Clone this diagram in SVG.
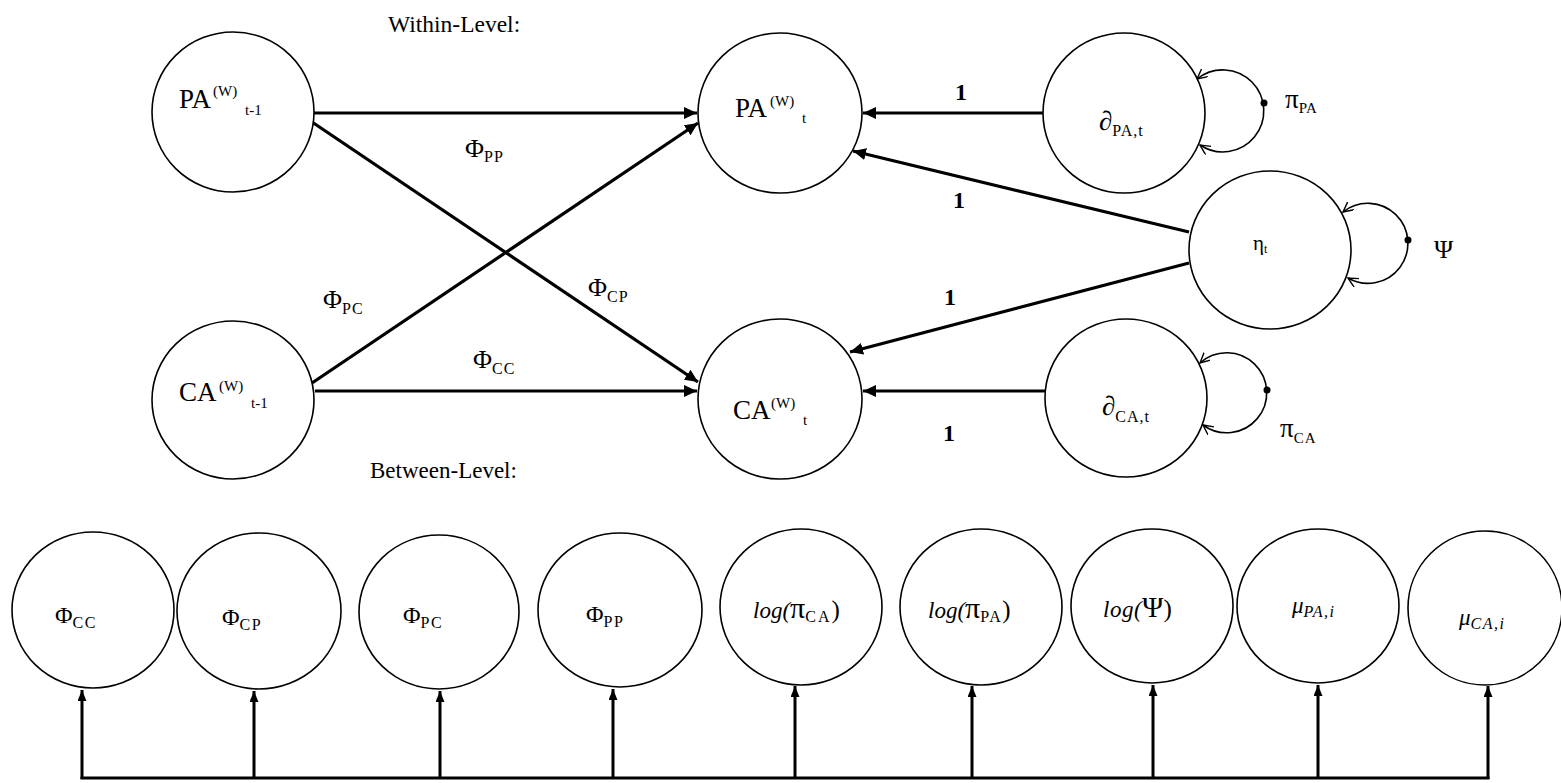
<svg xmlns="http://www.w3.org/2000/svg" width="1561" height="783" viewBox="0 0 1561 783">
<style>
.n{fill:#fff;stroke:#000;stroke-width:1.6}
.t{font-family:"Liberation Serif","Times New Roman",serif;fill:#000}
.c{stroke:#000;stroke-width:3.2;fill:none}
.b{stroke:#000;stroke-width:3;fill:none}
.l{stroke:#000;stroke-width:1.6;fill:none}
.one{font-family:"Liberation Serif","Times New Roman",serif;font-weight:bold;font-size:24px;text-anchor:middle}
.i{font-style:italic}
</style>
<defs>
<marker id="ah" markerUnits="userSpaceOnUse" markerWidth="14" markerHeight="12" refX="13" refY="6" orient="auto"><path d="M0,0 L13,6 L0,12 z" fill="#000"/></marker>
<marker id="ab" markerUnits="userSpaceOnUse" markerWidth="12" markerHeight="10" refX="11" refY="4.5" orient="auto"><path d="M0,0 L11,4.5 L0,9 z" fill="#000"/></marker>
<marker id="ao" markerUnits="userSpaceOnUse" markerWidth="12" markerHeight="12" refX="10" refY="5" orient="auto-start-reverse"><path d="M0,0 L10,5 L0,10" fill="none" stroke="#000" stroke-width="1.4"/></marker>
</defs>
<rect width="1561" height="783" fill="#fff"/>

<text class="t" x="388" y="32" font-size="23.5">Within-Level:</text>
<text class="t" x="370" y="478" font-size="23">Between-Level:</text>

<g id="connectors">
<line class="c" x1="314" y1="113" x2="697" y2="113" marker-end="url(#ah)"/>
<line class="c" x1="312" y1="122" x2="698" y2="382" marker-end="url(#ah)"/>
<line class="c" x1="312" y1="383" x2="698" y2="123" marker-end="url(#ah)"/>
<line class="c" x1="315" y1="391" x2="697" y2="391" marker-end="url(#ah)"/>
<line class="c" x1="1043" y1="113" x2="863" y2="113" marker-end="url(#ah)"/>
<line class="c" x1="1189" y1="232" x2="853" y2="151" marker-end="url(#ah)"/>
<line class="c" x1="1189" y1="263" x2="850" y2="352" marker-end="url(#ah)"/>
<line class="c" x1="1045" y1="391" x2="863" y2="391" marker-end="url(#ah)"/>
<path class="l" d="M1197,79 A41,41 0 1,1 1200,145" marker-start="url(#ao)" marker-end="url(#ao)"/>
<path class="l" d="M1343,212 A40,40 0 1,1 1348,278" marker-start="url(#ao)" marker-end="url(#ao)"/>
<path class="l" d="M1200,363 A40,40 0 1,1 1203,425" marker-start="url(#ao)" marker-end="url(#ao)"/>
<circle cx="1264" cy="103" r="3.5"/>
<circle cx="1408" cy="240" r="3.5"/>
<circle cx="1267" cy="390" r="3.5"/>
<line class="b" x1="80.5" y1="778" x2="1489.5" y2="778"/>
<line class="b" x1="82" y1="779" x2="82" y2="690" marker-end="url(#ab)"/>
<line class="b" x1="254" y1="779" x2="254" y2="691" marker-end="url(#ab)"/>
<line class="b" x1="440" y1="779" x2="440" y2="691" marker-end="url(#ab)"/>
<line class="b" x1="613" y1="779" x2="613" y2="689" marker-end="url(#ab)"/>
<line class="b" x1="795" y1="779" x2="795" y2="686" marker-end="url(#ab)"/>
<line class="b" x1="972" y1="779" x2="972" y2="686" marker-end="url(#ab)"/>
<line class="b" x1="1153" y1="779" x2="1153" y2="685" marker-end="url(#ab)"/>
<line class="b" x1="1318" y1="779" x2="1318" y2="685" marker-end="url(#ab)"/>
<line class="b" x1="1488" y1="779" x2="1488" y2="686" marker-end="url(#ab)"/>
<text class="one" x="961" y="100">1</text>
<text class="one" x="959" y="208">1</text>
<text class="one" x="950" y="305">1</text>
<text class="one" x="949" y="441">1</text>
<text class="t" x="465" y="157" font-size="26">Φ<tspan font-size="16" dy="5" letter-spacing="1">PP</tspan></text>
<text class="t" x="323" y="308" font-size="26">Φ<tspan font-size="16" dy="6" letter-spacing="1">PC</tspan></text>
<text class="t" x="473" y="368" font-size="26">Φ<tspan font-size="16" dy="6" letter-spacing="1">CC</tspan></text>
<text class="t" x="588" y="296" font-size="26">Φ<tspan font-size="16" dy="6" letter-spacing="1">CP</tspan></text>
<text class="t" x="1285" y="108" font-size="27">π<tspan font-size="15" dy="5" letter-spacing="0.5">PA</tspan></text>
<text class="t" x="1280" y="437" font-size="27">π<tspan font-size="15" dy="6" letter-spacing="1">CA</tspan></text>
<text class="t" x="1434" y="258" font-size="26">Ψ</text>
</g>

<g id="PA_t1"><ellipse class="n" cx="233" cy="112" rx="81" ry="80"/>
<text class="t" x="179" y="108" font-size="27">PA<tspan x="213" dy="-12" font-size="15">(W)</tspan><tspan x="245" dy="19" font-size="15">t-1</tspan></text></g>
<g id="CA_t1"><ellipse class="n" cx="233" cy="400" rx="81" ry="79"/>
<text class="t" x="179" y="401" font-size="27">CA<tspan x="219" dy="-10" font-size="15">(W)</tspan><tspan x="251" dy="17" font-size="15">t-1</tspan></text></g>
<g id="PA_t"><ellipse class="n" cx="780" cy="113" rx="82" ry="80"/>
<text class="t" x="735" y="117" font-size="27">PA<tspan x="770" dy="-11" font-size="15">(W)</tspan><tspan x="802" dy="17" font-size="15">t</tspan></text></g>
<g id="CA_t"><ellipse class="n" cx="780" cy="399" rx="82" ry="80"/>
<text class="t" x="733" y="419" font-size="27">CA<tspan x="771" dy="-11" font-size="15">(W)</tspan><tspan x="803" dy="17" font-size="15">t</tspan></text></g>
<g id="dPA"><ellipse class="n" cx="1124" cy="113" rx="81" ry="80"/>
<text class="t" x="1099" y="130" font-size="27">∂<tspan font-size="16" dy="6" letter-spacing="1">PA,t</tspan></text></g>
<g id="eta"><ellipse class="n" cx="1270" cy="250" rx="81" ry="79"/>
<text class="t" x="1253" y="250" font-size="21">η<tspan font-size="12" dy="3">t</tspan></text></g>
<g id="dCA"><ellipse class="n" cx="1126" cy="398" rx="81" ry="79"/>
<text class="t" x="1102" y="415" font-size="27">∂<tspan font-size="16" dy="7" letter-spacing="1">CA,t</tspan></text></g>

<g id="B_CC"><ellipse class="n" cx="93" cy="610" rx="81" ry="78"/>
<text class="t" x="55" y="623" font-size="24">Φ<tspan font-size="16" dy="5" letter-spacing="1.5">CC</tspan></text></g>
<g id="B_CP"><ellipse class="n" cx="259" cy="611" rx="82" ry="78"/>
<text class="t" x="222" y="625" font-size="24">Φ<tspan font-size="16" dy="5" letter-spacing="1.5">CP</tspan></text></g>
<g id="B_PC"><ellipse class="n" cx="439" cy="612" rx="80" ry="77"/>
<text class="t" x="403" y="623" font-size="24">Φ<tspan font-size="16" dy="5" letter-spacing="1.5">PC</tspan></text></g>
<g id="B_PP"><ellipse class="n" cx="620" cy="610" rx="82" ry="77"/>
<text class="t" x="586" y="622" font-size="24">Φ<tspan font-size="16" dy="5" letter-spacing="1.5">PP</tspan></text></g>
<g id="B_logpiCA"><ellipse class="n" cx="801" cy="607" rx="81" ry="78"/>
<text class="t" x="753" y="618" font-size="23"><tspan class="i">log(</tspan><tspan font-size="30">π</tspan><tspan font-size="16" dy="4" letter-spacing="2">CA</tspan><tspan dy="-4" font-size="25">)</tspan></text></g>
<g id="B_logpiPA"><ellipse class="n" cx="981" cy="607" rx="81" ry="78"/>
<text class="t" x="928" y="618" font-size="23"><tspan class="i">log(</tspan><tspan font-size="30">π</tspan><tspan font-size="16" dy="4" letter-spacing="1.5">PA</tspan><tspan dy="-4" font-size="25">)</tspan></text></g>
<g id="B_logPsi"><ellipse class="n" cx="1152" cy="606" rx="81" ry="77"/>
<text class="t" x="1103" y="617" font-size="23"><tspan class="i" letter-spacing="0.5">log(</tspan><tspan font-size="29">Ψ</tspan><tspan font-size="25">)</tspan></text></g>
<g id="B_muPA"><ellipse class="n" cx="1318" cy="606" rx="81" ry="77"/>
<text class="t i" x="1292" y="613" font-size="23">μ<tspan font-size="16" dy="4" letter-spacing="1.5">PA,i</tspan></text></g>
<g id="B_muCA"><ellipse class="n" cx="1485" cy="608" rx="77" ry="77"/>
<text class="t i" x="1459" y="625" font-size="23">μ<tspan font-size="16" dy="4" letter-spacing="1.5">CA,i</tspan></text></g>
</svg>
